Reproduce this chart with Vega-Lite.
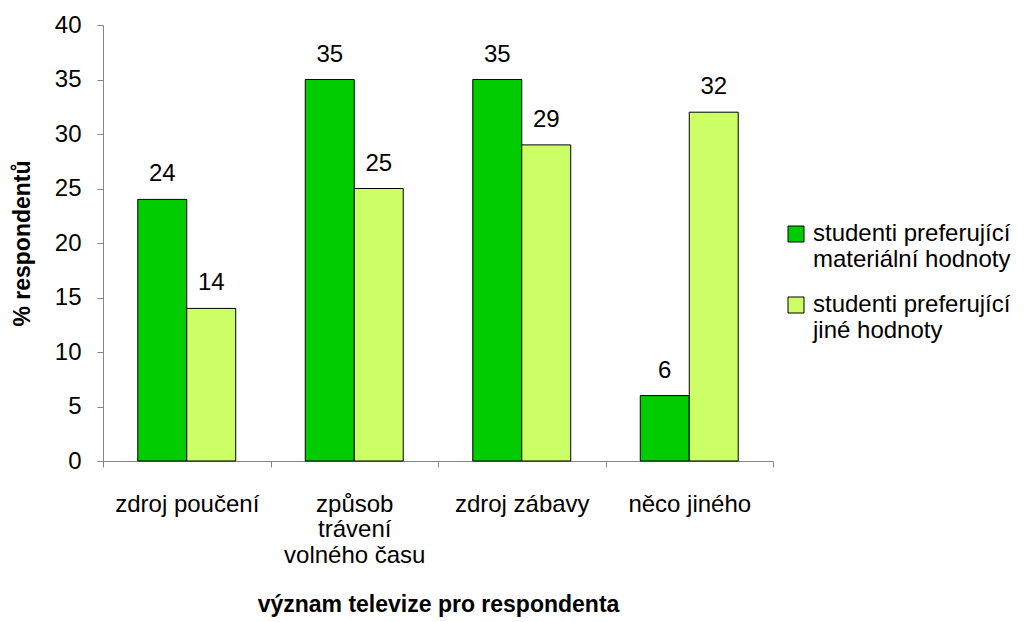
{
  "$schema": "https://vega.github.io/schema/vega-lite/v6.json",
  "width": 670,
  "height": 436,
  "autosize": "none",
  "padding": {"left": 103, "top": 25, "right": 260, "bottom": 161},
  "background": "white",
  "config": {"view": {"stroke": null}, "font": "Liberation Sans"},
  "data": {
    "values": [
      {"vyznam": "zdroj poučení", "skupina": "studenti preferující materiální hodnoty", "procento": 24},
      {"vyznam": "zdroj poučení", "skupina": "studenti preferující jiné hodnoty", "procento": 14},
      {"vyznam": "způsob trávení volného času", "skupina": "studenti preferující materiální hodnoty", "procento": 35},
      {"vyznam": "způsob trávení volného času", "skupina": "studenti preferující jiné hodnoty", "procento": 25},
      {"vyznam": "zdroj zábavy", "skupina": "studenti preferující materiální hodnoty", "procento": 35},
      {"vyznam": "zdroj zábavy", "skupina": "studenti preferující jiné hodnoty", "procento": 29},
      {"vyznam": "něco jiného", "skupina": "studenti preferující materiální hodnoty", "procento": 6},
      {"vyznam": "něco jiného", "skupina": "studenti preferující jiné hodnoty", "procento": 32}
    ]
  },
  "encoding": {
    "x": {
      "field": "vyznam",
      "type": "nominal",
      "sort": ["zdroj poučení", "způsob trávení volného času", "zdroj zábavy", "něco jiného"],
      "scale": {"paddingInner": 0, "paddingOuter": 0},
      "axis": {
        "title": "význam televize pro respondenta",
        "titleFontSize": 23,
        "titleFontWeight": "bold",
        "titleColor": "black",
        "titlePadding": 26,
        "labelAngle": 0,
        "labelFontSize": 24,
        "labelColor": "black",
        "labelPadding": 25,
        "labelLineHeight": 25.5,
        "labelLimit": 300,
        "labelExpr": "datum.value == 'způsob trávení volného času' ? ['způsob', 'trávení', 'volného času'] : datum.value",
        "tickBand": "extent",
        "tickSize": 6,
        "tickColor": "#868686",
        "domainColor": "#868686",
        "grid": false
      }
    },
    "xOffset": {
      "field": "skupina",
      "type": "nominal",
      "sort": ["studenti preferující materiální hodnoty", "studenti preferující jiné hodnoty"],
      "scale": {"paddingInner": 0, "paddingOuter": 0.71}
    },
    "y": {
      "field": "procento",
      "type": "quantitative",
      "scale": {"domain": [0, 40], "nice": false},
      "axis": {
        "title": "% respondentů",
        "titleFontSize": 23,
        "titleFontWeight": "bold",
        "titleColor": "black",
        "titlePadding": 20,
        "values": [0, 5, 10, 15, 20, 25, 30, 35, 40],
        "labelFontSize": 24,
        "labelColor": "black",
        "labelPadding": 16,
        "tickSize": 6,
        "tickColor": "#868686",
        "domainColor": "#868686",
        "grid": false
      }
    }
  },
  "layer": [
    {
      "mark": {"type": "bar", "stroke": "black", "strokeWidth": 1},
      "encoding": {
        "color": {
          "field": "skupina",
          "type": "nominal",
          "sort": ["studenti preferující materiální hodnoty", "studenti preferující jiné hodnoty"],
          "scale": {
            "domain": ["studenti preferující materiální hodnoty", "studenti preferující jiné hodnoty"],
            "range": ["#00CC00", "#CCFF66"]
          },
          "legend": {
            "title": null,
            "orient": "none",
            "legendX": 681,
            "legendY": 197,
            "symbolType": "square",
            "symbolSize": 256,
            "symbolStrokeColor": "black",
            "symbolStrokeWidth": 1,
            "symbolOpacity": 1,
            "labelFontSize": 24,
            "labelColor": "black",
            "labelLimit": 300,
            "labelLineHeight": 26,
            "labelOffset": 5,
            "rowPadding": 21,
            "labelExpr": "[slice(datum.label, 0, 20), slice(datum.label, 21)]"
          }
        }
      }
    },
    {
      "mark": {"type": "text", "fontSize": 24, "baseline": "middle", "dy": -25, "color": "black"},
      "encoding": {
        "text": {"field": "procento", "type": "quantitative"}
      }
    }
  ]
}
